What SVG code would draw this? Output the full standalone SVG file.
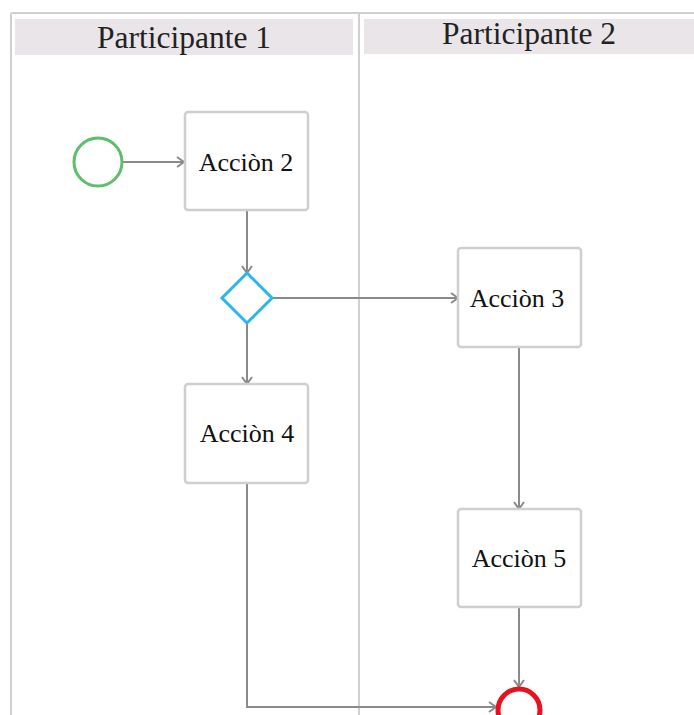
<svg xmlns="http://www.w3.org/2000/svg" width="694" height="715" viewBox="0 0 694 715">
<defs>
<marker id="arr" markerWidth="12" markerHeight="12" refX="10" refY="6" orient="auto" markerUnits="userSpaceOnUse">
<path d="M3,1 L10,6 L3,11" fill="none" stroke="#8a8a8a" stroke-width="2"/>
</marker>
</defs>
<style>
.hdr{fill:#e9e5e9}
.lane{fill:none;stroke:#d0d0d0;stroke-width:2}
.box{fill:#fff;stroke:#cfcfcf;stroke-width:2.5}
.lbl{font-family:"Liberation Serif","Times New Roman",serif;font-size:26px;fill:#111;text-anchor:middle}
.htxt{font-family:"Liberation Serif","Times New Roman",serif;font-size:31.5px;fill:#222;text-anchor:middle}
.con{fill:none;stroke:#8a8a8a;stroke-width:2}
</style>
<rect width="694" height="715" fill="#fff"/>
<g id="lanes">
<line class="lane" x1="11" y1="13" x2="694" y2="13"/>
<line class="lane" x1="11" y1="13" x2="11" y2="715"/>
<line class="lane" x1="359" y1="13" x2="359" y2="715"/>
</g>
<g id="lane1-header">
<rect class="hdr" x="15" y="19" width="338" height="36"/>
<text class="htxt" x="184" y="48">Participante 1</text>
</g>
<g id="lane2-header">
<rect class="hdr" x="364" y="19" width="330" height="35"/>
<text class="htxt" x="529" y="44">Participante 2</text>
</g>
<g id="connectors">
<line class="con" x1="122" y1="162" x2="184" y2="162" marker-end="url(#arr)"/>
<line class="con" x1="247" y1="211" x2="247" y2="273" marker-end="url(#arr)"/>
<line class="con" x1="272" y1="298" x2="458" y2="298" marker-end="url(#arr)"/>
<line class="con" x1="247" y1="323" x2="247" y2="384" marker-end="url(#arr)"/>
<line class="con" x1="519" y1="348" x2="519" y2="509" marker-end="url(#arr)"/>
<line class="con" x1="519" y1="608" x2="519" y2="687" marker-end="url(#arr)"/>
<polyline class="con" points="247,484 247,707 496,707" marker-end="url(#arr)"/>
</g>
<g id="start">
<circle cx="98" cy="162" r="24" fill="#fff" stroke="#5cbf6b" stroke-width="3"/>
</g>
<g id="accion2">
<rect class="box" x="185" y="112" width="123" height="98" rx="3"/>
<text class="lbl" x="246" y="171">Acciòn 2</text>
</g>
<g id="gateway">
<polygon points="247,273 272,298 247,323 222,298" fill="#fff" stroke="#29b6ec" stroke-width="3"/>
</g>
<g id="accion3">
<rect class="box" x="458" y="248" width="123" height="99" rx="3"/>
<text class="lbl" x="517" y="307">Acciòn 3</text>
</g>
<g id="accion4">
<rect class="box" x="185" y="384" width="123" height="99" rx="3"/>
<text class="lbl" x="247" y="442">Acciòn 4</text>
</g>
<g id="accion5">
<rect class="box" x="458" y="509" width="123" height="98" rx="3"/>
<text class="lbl" x="519" y="567">Acciòn 5</text>
</g>
<g id="end">
<circle cx="519" cy="710" r="21" fill="#fff" stroke="#e8121e" stroke-width="5"/>
</g>
</svg>
